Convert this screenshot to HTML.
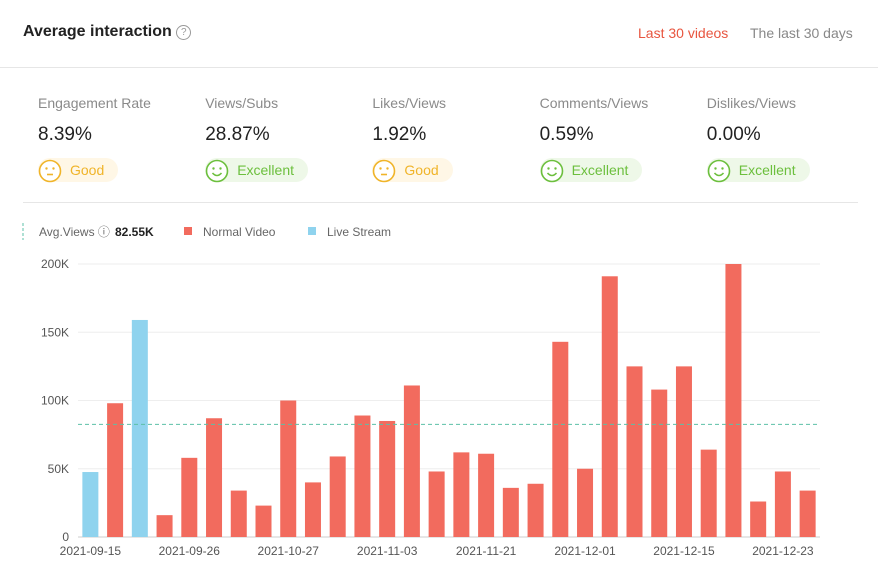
<!DOCTYPE html>
<html><head><meta charset="utf-8"><style>
body{margin:0;width:878px;height:584px;background:#fff;font-family:"Liberation Sans",sans-serif;position:relative;overflow:hidden}
.a{position:absolute;white-space:nowrap}
.lbl{font-size:14px;color:#8a8a8a}
.val{font-size:19px;color:#222}
.pill{height:24px;border-radius:12px;font-size:14px;line-height:24px;padding:0 14px 0 0}
.face{display:inline-block;vertical-align:middle;margin-right:8px}
</style></head><body>
<div class="a" style="left:23px;top:23px;font-size:16px;font-weight:bold;color:#222">Average interaction <span style="display:inline-block;width:13px;height:13px;border:1.5px solid #999;border-radius:50%;font-size:10px;line-height:13px;text-align:center;color:#999;font-weight:normal;vertical-align:1px">?</span></div>
<div class="a" style="left:638px;top:25px;font-size:14px;color:#e8553f">Last 30 videos</div>
<div class="a" style="left:750px;top:25px;font-size:14px;color:#888">The last 30 days</div>
<div class="a" style="left:0;top:67px;width:878px;height:1px;background:#e6e6e6"></div>
<div id="metrics"></div>
<div class="a" style="left:23px;top:202px;width:835px;height:1px;background:#e6e6e6"></div>
<svg class="a" style="left:0;top:0" width="878" height="584" id="chart"></svg>
<script>
const metricNames=["Engagement Rate","Views/Subs","Likes/Views","Comments/Views","Dislikes/Views"];
const metricValues=["8.39%","28.87%","1.92%","0.59%","0.00%"];
const metricRatings=["Good","Excellent","Good","Excellent","Excellent"];
const m=document.getElementById('metrics');
metricNames.forEach((n,i)=>{
  const x=38+i*167.2;
  const good=metricRatings[i]==="Good";
  const col=good?"#f0b429":"#6cbf3d", bg=good?"#fff7e6":"#eef8e8";
  const d=document.createElement('div');
  
  
  const mouth=good?'<line x1="8" y1="14.5" x2="14" y2="14.5" stroke="'+col+'" stroke-width="1.6"/>':'<path d="M6.5 13 Q11 18 15.5 13" fill="none" stroke="'+col+'" stroke-width="1.6"/>';
  d.innerHTML='<div class="a lbl" style="left:'+x+'px;top:95px">'+n+'</div>'+
   '<div class="a val" style="left:'+x+'px;top:124px">'+metricValues[i]+'</div>'+
   '<div class="a pill" style="left:'+x+'px;top:158px;background:'+bg+';color:'+col+'"><svg class="face" width="24" height="24" viewBox="-1 -1 24 24"><circle cx="11" cy="11" r="10.5" fill="#fff" stroke="'+col+'" stroke-width="1.6"/><circle cx="7.5" cy="8.5" r="1.2" fill="'+col+'"/><circle cx="14.5" cy="8.5" r="1.2" fill="'+col+'"/>'+mouth+'</svg>'+metricRatings[i]+'</div>';
  m.appendChild(d);
});
</script>
<script>
const values=[47.6,98,159,16,58,87,34,23,100,40,59,89,85,111,48,62,61,36,39,143,50,191,125,108,125,64,200,26,48,34];
const isLive=[1,0,1,0,0,0,0,0,0,0,0,0,0,0,0,0,0,0,0,0,0,0,0,0,0,0,0,0,0,0];
const xLabels=["2021-09-15","2021-09-26","2021-10-27","2021-11-03","2021-11-21","2021-12-01","2021-12-15","2021-12-23"];
const yTicks=[0,50,100,150,200];
const avgViews=82.55;
const svg=document.getElementById('chart');
const NS='http://www.w3.org/2000/svg';
const x0=78,x1=820,yb=537,yt=264,yMax=200;
const step=(x1-x0)/values.length;
const Y=v=>yb-(v/yMax)*(yb-yt);
const X=i=>x0+step*(i+0.5);
function mk(t,a){const e=document.createElementNS(NS,t);for(const k in a)e.setAttribute(k,a[k]);svg.appendChild(e);return e;}
yTicks.forEach(t=>{
  const l=mk('line',{x1:x0,x2:x1,y1:Y(t),y2:Y(t),stroke:t===0?'#ccc':'#eee'});
  
  
  const tx=mk('text',{x:69,y:Y(t)+4,'text-anchor':'end','font-size':12,fill:'#555','font-family':'Liberation Sans'});
  tx.textContent=t===0?'0':t+'K';
  
  
});
values.forEach((v,i)=>{
  const r=mk('rect',{x:X(i)-8,y:Y(v),width:16,height:yb-Y(v),fill:isLive[i]?'#8fd3ee':'#f26b5e'});
  
  
});
xLabels.forEach((s,k)=>{
  const i=k*4;
  const t=mk('text',{x:X(i),y:555,'text-anchor':'middle','font-size':12,fill:'#555','font-family':'Liberation Sans'});
  t.textContent=s;
  
  
});
const al=mk('line',{x1:x0,x2:x1,y1:Y(avgViews),y2:Y(avgViews),stroke:'#5cc0a8','stroke-dasharray':'4,3'});


const lg=mk('line',{x1:23,x2:23,y1:223,y2:240,stroke:'#5cc0a8','stroke-dasharray':'3,2'});


const t1=mk('text',{x:39,y:236,'font-size':12,fill:'#666','font-family':'Liberation Sans'});t1.textContent='Avg.Views ⓘ';


const t2=mk('text',{x:115,y:236,'font-size':12,'font-weight':'bold',fill:'#222','font-family':'Liberation Sans'});t2.textContent=avgViews+'K';


const s1=mk('rect',{x:184,y:227,width:8,height:8,fill:'#f26b5e'});


const t3=mk('text',{x:203,y:236,'font-size':12,fill:'#666','font-family':'Liberation Sans'});t3.textContent='Normal Video';


const s2=mk('rect',{x:308,y:227,width:8,height:8,fill:'#8fd3ee'});


const t4=mk('text',{x:327,y:236,'font-size':12,fill:'#666','font-family':'Liberation Sans'});t4.textContent='Live Stream';


</script>
</body></html>
